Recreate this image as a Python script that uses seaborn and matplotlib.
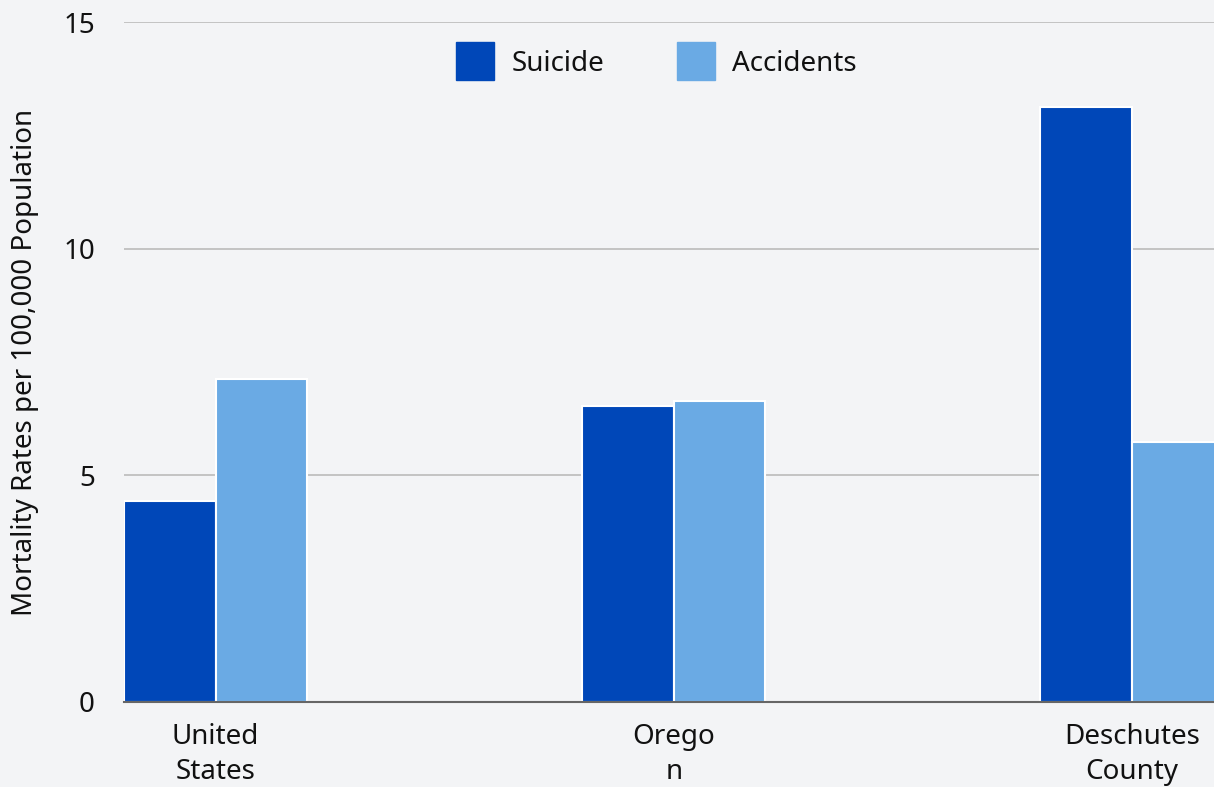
import matplotlib
matplotlib.use("Agg")
import matplotlib.pyplot as plt
from matplotlib.lines import Line2D
import seaborn as sns
import pandas as pd

categories = ["United\nStates", "Orego\nn", "Deschutes\nCounty"]
suicide = [4.43, 6.53, 13.13]
accidents = [7.13, 6.64, 5.74]
series_names = ["Suicide", "Accidents"]
colors = ["#0047b8", "#6aaae4"]
yticks = [0, 5, 10, 15]

df = pd.DataFrame({
    "Region": categories * 2,
    "Rate": suicide + accidents,
    "Cause": [series_names[0]] * 3 + [series_names[1]] * 3,
})

sns.set_theme(style="white")
plt.rcParams["font.family"] = ["Noto Sans", "DejaVu Sans"]
bg = "#f3f4f6"
fs = 20

fig = plt.figure(figsize=(12.14, 7.87), dpi=100, facecolor=bg)
ax = fig.add_axes([124 / 1214, 85 / 787, 1 - 124 / 1214, (702 - 22) / 787])
ax.set_facecolor(bg)

sns.barplot(data=df, x="Region", y="Rate", hue="Cause", palette=colors,
            width=0.4, edgecolor="white", linewidth=1.5, ax=ax, legend=False,
            saturation=1)

ax.set_xlim(-0.2, 2.179)
ax.set_ylim(0, 15)
ax.set_yticks(yticks)
ax.set_yticklabels([str(v) for v in yticks])
ax.yaxis.grid(True, color="#bbbbbb", linewidth=1.2)
ax.set_axisbelow(True)
for s in ["top", "right", "left"]:
    ax.spines[s].set_visible(False)
ax.spines["bottom"].set_color("#666666")
ax.spines["bottom"].set_linewidth(1.5)
ax.spines["bottom"].set_zorder(5)
ax.tick_params(axis="both", length=0, labelsize=fs, colors="#111111")
ax.tick_params(axis="x", pad=15)
ax.tick_params(axis="y", pad=21)
for t in ax.get_xticklabels():
    t.set_linespacing(1.35)
ax.set_xlabel("")
ax.set_ylabel("Mortality Rates per 100,000 Population", fontsize=fs, color="#111111", labelpad=17)

handles = [Line2D([0], [0], marker="s", linestyle="none", markersize=28,
                  markerfacecolor=c, markeredgecolor=c) for c in colors]
fig.legend(handles, series_names, loc="center", bbox_to_anchor=(652 / 1214, 1 - 64 / 787),
           ncol=2, frameon=False, fontsize=fs, handletextpad=0.3, columnspacing=2.3,
           labelcolor="#111111")

fig.savefig("out.png", dpi=100, facecolor=bg)
